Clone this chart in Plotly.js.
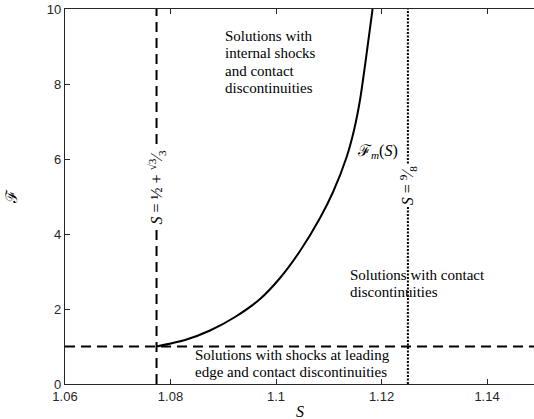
<!DOCTYPE html>
<html>
<head>
<meta charset="utf-8">
<script src="https://cdn.plot.ly/plotly-3.0.1.min.js"></script>
<style>html,body{margin:0;padding:0;background:#fff;}#chart{width:534px;height:419px;}</style>
</head>
<body>
<div id="chart"></div>
<script>
// Curve F_m(S)
const curveS = [1.07735, 1.08275, 1.08749, 1.09223, 1.09697, 1.10076, 1.10455, 1.10834, 1.11081, 1.1134, 1.11479, 1.11592, 1.11706, 1.1183];
const curveF = [1.0, 1.173, 1.427, 1.787, 2.267, 2.827, 3.547, 4.427, 5.12, 6.061, 6.773, 7.573, 8.693, 10.0];

// Boundary lines
const sLeft = 0.5 + Math.sqrt(3) / 3;   // S = 1/2 + sqrt(3)/3
const sRight = 9 / 8;                   // S = 9/8
const fLevel = 1;                       // F = 1

const xRange = [1.06, 1.1489];
const yRange = [0, 10];
const xTicks = [1.06, 1.08, 1.1, 1.12, 1.14];
const xTickText = ['1.06', '1.08', '1.1', '1.12', '1.14'];
const yTicks = [0, 2, 4, 6, 8, 10];

// Region labels (one entry per printed line)
const region1Lines = ['Solutions with', 'internal shocks', 'and contact', 'discontinuities'];
const region2Lines = ['Solutions with contact', 'discontinuities'];
const region3Lines = ['Solutions with shocks at leading', 'edge and contact discontinuities'];

const serif = 'Liberation Serif';
const sans = 'Liberation Sans';
const axisColor = '#262626';

const traces = [
  {x: [sLeft, sLeft], y: [0, 10], mode: 'lines', line: {color: '#000', width: 2, dash: '10px,6px'}, hoverinfo: 'skip'},
  {x: [1.06, 1.15], y: [fLevel, fLevel], mode: 'lines', line: {color: '#000', width: 2, dash: '10px,6px'}, hoverinfo: 'skip'},
  {x: [sRight, sRight], y: [0, 10], mode: 'lines', line: {color: '#000', width: 2, dash: '2px,1.5px'}, hoverinfo: 'skip'},
  {x: curveS, y: curveF, mode: 'lines', line: {color: '#000', width: 2, shape: 'spline', smoothing: 0.7}, hoverinfo: 'skip'}
];

const ann = (x, y, text, opts) => Object.assign({
  x: x, y: y, xref: 'x', yref: 'y', text: text, showarrow: false,
  font: {family: serif, size: 15, color: '#000'}
}, opts || {});

// paper-y position for a pixel row (plot area rows 9..384)
const lineBlock = (xData, topRowPx, lines) => lines.map((t, i) => ({
  x: xData, y: (384 - (topRowPx + i * 17.3)) / 375, xref: 'x', yref: 'paper',
  text: t, showarrow: false, xanchor: 'left', yanchor: 'middle', align: 'left',
  font: {family: serif, size: 15, color: '#000'}
}));

const layout = {
  width: 534, height: 419,
  margin: {l: 65, r: 0, t: 9, b: 35},
  paper_bgcolor: '#fff', plot_bgcolor: '#fff',
  showlegend: false,
  xaxis: {
    range: xRange, tickvals: xTicks, ticktext: xTickText,
    ticks: 'inside', ticklen: 5, tickwidth: 1, tickcolor: axisColor,
    showline: true, linecolor: axisColor, linewidth: 1.2, mirror: 'ticks',
    showgrid: false, zeroline: false,
    tickfont: {family: sans, size: 13, color: axisColor}
  },
  yaxis: {
    range: yRange, tickvals: yTicks,
    ticks: 'inside', ticklen: 5, tickwidth: 1, tickcolor: axisColor,
    showline: true, linecolor: axisColor, linewidth: 1.2,
    showgrid: false, zeroline: false,
    tickfont: {family: sans, size: 13, color: axisColor}
  },
  annotations: [].concat(
    lineBlock(1.0899, 36, region1Lines),
    lineBlock(1.11365, 275, region2Lines),
    lineBlock(1.08421, 355, region3Lines),
    [
      ann(1.1193, 6.2, 'ℱ<sub><i>m</i></sub>(<i>S</i>)', {font: {family: serif, size: 16, color: '#000'}}),
      ann(sLeft, 5.23, '<i>S</i> = ½ + <sup>√3</sup>⁄<sub>3</sub>', {textangle: -90, bgcolor: '#fff', font: {family: serif, size: 16, color: '#000'}}),
      ann(sRight, 5.3, '<i>S</i> = <sup>9</sup>⁄<sub>8</sub>', {textangle: -90, bgcolor: '#fff', font: {family: serif, size: 16, color: '#000'}}),
      {x: 0.501, y: -0.072, xref: 'paper', yref: 'paper', xanchor: 'center', yanchor: 'middle', text: '<i>S</i>', showarrow: false, font: {family: serif, size: 16, color: '#000'}},
      {x: -0.113, y: 0.4987, xref: 'paper', yref: 'paper', xanchor: 'center', yanchor: 'middle', text: 'ℱ', showarrow: false, textangle: -90, font: {family: serif, size: 16, color: '#000'}}
    ]
  )
};

Plotly.newPlot('chart', traces, layout, {displayModeBar: false, staticPlot: true});
</script>
</body>
</html>
